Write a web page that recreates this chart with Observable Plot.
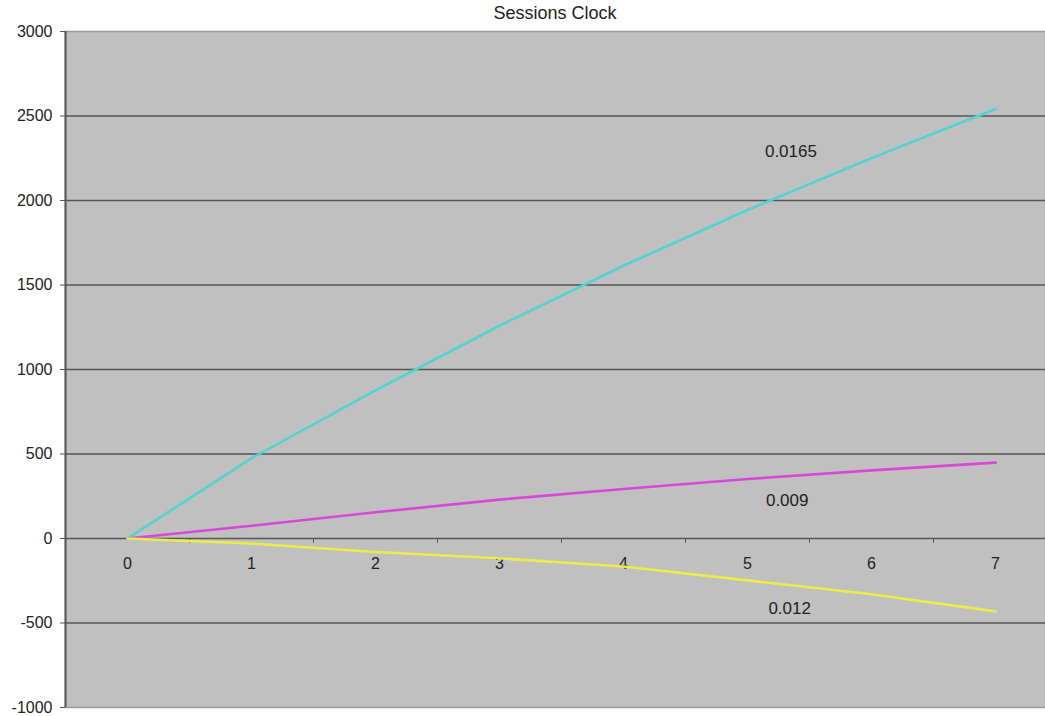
<!DOCTYPE html>
<html>
<head>
<meta charset="utf-8">
<script src="https://cdn.jsdelivr.net/npm/d3@7"></script>
<script src="https://cdn.jsdelivr.net/npm/@observablehq/plot@0.6"></script>
<style>
  html, body { margin: 0; padding: 0; background: #fff; }
  #title { height: 24px; line-height: 26px; margin-left: 65px; width: 980px; text-align: center;
           font-family: "Liberation Sans", Arial, sans-serif; font-size: 18px; color: #222; }
</style>
</head>
<body>
<div id="title">Sessions Clock</div>
<div id="chart"></div>
<script>
const categories = [0, 1, 2, 3, 4, 5, 6, 7];
const series0165 = [0, 475, 877, 1259, 1614, 1944, 2251, 2541];
const series009 = [0, 75, 155, 230, 293, 352, 403, 449];
const series012 = [0, -30, -80, -117, -166, -248, -330, -431];
const seriesNames = ["0.0165", "0.009", "0.012"];
const seriesColors = ["#4fd4d0", "#d848d8", "#ecec48"];
const yTicks = [-1000, -500, 0, 500, 1000, 1500, 2000, 2500, 3000];
const xTickMarks = [0.5, 1.5, 2.5, 3.5, 4.5, 5.5, 6.5];
const labelX = [5.35, 5.32, 5.34];
const labelY = [2287, 225, -414];

const seriesValues = [series0165, series009, series012];
const rows = seriesNames.flatMap((name, i) =>
  categories.map((c, j) => ({series: name, x: c, y: seriesValues[i][j]})));
const labels = seriesNames.map((name, i) => ({text: name, x: labelX[i], y: labelY[i]}));

const chart = Plot.plot({
  width: 1045,
  height: 692,
  marginLeft: 65,
  marginRight: 0,
  marginTop: 7,
  marginBottom: 9,
  style: {background: "white", fontFamily: "Liberation Sans, Arial, sans-serif", fontSize: "16px", color: "#222"},
  x: {domain: [-0.5, 7.403], axis: null},
  y: {domain: [-1000, 3000], axis: null},
  color: {domain: seriesNames, range: seriesColors},
  marks: [
    Plot.frame({fill: "#c0c0c0", stroke: "#9a9a9a", strokeWidth: 1.5}),
    Plot.ruleY(yTicks.filter(d => d > -1000 && d < 3000), {stroke: "#555", strokeWidth: 1.6}),
    Plot.ruleX([-0.5], {stroke: "#555", strokeWidth: 2}),
    Plot.axisY({ticks: yTicks, tickSize: 5, tickPadding: 8, tickFormat: d => String(d), stroke: "#555", label: null}),
    Plot.ruleX(xTickMarks, {y1: 0, y2: -28, stroke: "#555", strokeWidth: 1}),
    Plot.text(categories, {x: d => d, y: 0, dy: 25, text: d => String(d), fill: "#222"}),
    Plot.line(rows, {x: "x", y: "y", z: "series", stroke: "series", strokeWidth: 2.6}),
    Plot.text(labels, {x: "x", y: "y", text: "text", fontSize: 17, fill: "#222"})
  ]
});
document.getElementById("chart").appendChild(chart);
</script>
</body>
</html>
